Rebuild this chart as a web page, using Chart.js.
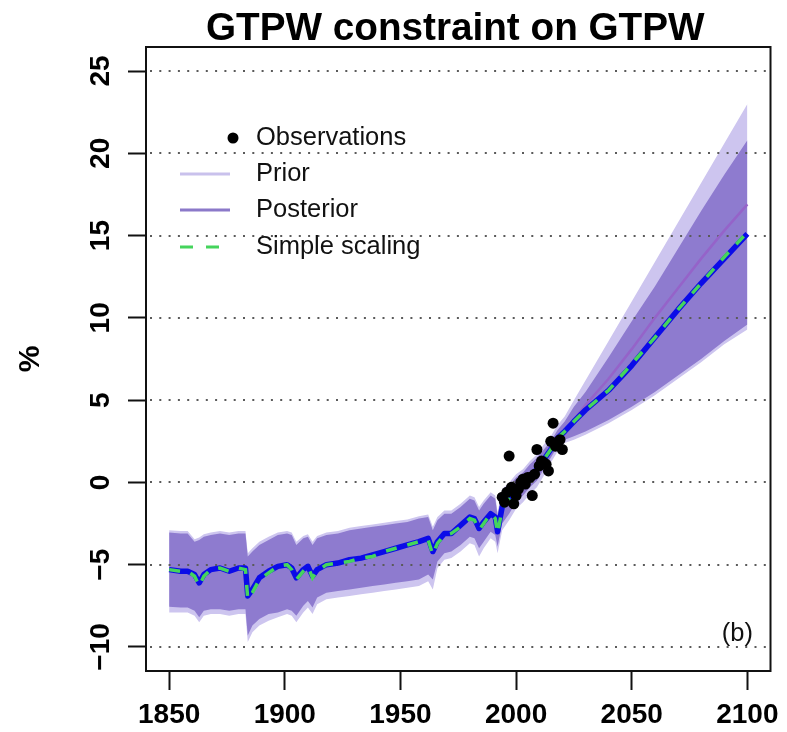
<!DOCTYPE html>
<html>
<head>
<meta charset="utf-8">
<title>GTPW constraint on GTPW</title>
<script src="https://cdn.jsdelivr.net/npm/chart.js@4.4.1/dist/chart.umd.min.js"></script>
<style>
  html, body { margin: 0; padding: 0; background: #ffffff; }
  #wrap { width: 787px; height: 732px; position: relative; }
</style>
</head>
<body>
<div id="wrap"><canvas id="chart" width="787" height="732"></canvas></div>
<script>
// Global-mean precipitation change (%), 1850-2100
const years = [1850, 1855, 1858, 1861, 1863, 1865, 1868, 1872, 1876, 1880,
  1883, 1884, 1886, 1889, 1893, 1897, 1901, 1903, 1905, 1908,
  1910, 1912, 1914, 1918, 1923, 1928, 1933, 1938, 1943, 1948,
  1953, 1958, 1962, 1964, 1966, 1969, 1972, 1976, 1980, 1982,
  1984, 1986, 1989, 1991, 1992, 1994, 1997, 2000, 2003, 2006,
  2009, 2012, 2015, 2018, 2021, 2025, 2030, 2040, 2050, 2060,
  2070, 2080, 2090, 2100];

const posteriorMedian = [-5.3, -5.4, -5.4, -5.6, -6.1, -5.6, -5.3, -5.2, -5.4, -5.2,
  -5.2, -6.9, -6.5, -5.8, -5.4, -5.1, -5.0, -5.2, -5.8, -5.3,
  -5.1, -5.7, -5.3, -5.0, -4.9, -4.7, -4.6, -4.4, -4.2, -4.0,
  -3.8, -3.6, -3.4, -4.2, -3.6, -3.1, -3.1, -2.6, -2.1, -2.2,
  -2.8, -2.4, -1.9, -2.1, -3.0, -1.5, -1.0, -0.4, -0.1, 0.4,
  0.8, 1.4, 2.0, 2.7, 3.1, 3.7, 4.4, 5.6, 7.1, 8.8,
  10.5, 12.1, 13.6, 15.1];

const simpleScaling = [-5.3, -5.4, -5.4, -5.7, -6.3, -5.7, -5.3, -5.2, -5.4, -5.2,
  -5.3, -7.1, -6.7, -5.9, -5.5, -5.1, -5.0, -5.3, -5.9, -5.4,
  -5.1, -5.8, -5.4, -5.0, -4.9, -4.8, -4.6, -4.5, -4.2, -4.0,
  -3.8, -3.6, -3.5, -4.4, -3.7, -3.2, -3.1, -2.7, -2.2, -2.3,
  -2.9, -2.5, -1.9, -2.2, -3.1, -1.6, -1.0, -0.5, -0.1, 0.4,
  0.8, 1.4, 2.0, 2.7, 3.1, 3.7, 4.4, 5.6, 7.2, 8.8,
  10.5, 12.1, 13.7, 15.2];

const posteriorLower = [-7.55, -7.6, -7.6, -7.8, -8.2, -7.8, -7.7, -7.7, -7.8, -7.7,
  -7.7, -9.3, -8.7, -8.3, -8.0, -7.9, -7.7, -7.8, -8.1, -7.5,
  -7.2, -7.6, -7.0, -6.7, -6.6, -6.5, -6.4, -6.3, -6.2, -6.1,
  -6.0, -5.9, -5.6, -5.9, -4.8, -4.3, -4.2, -3.8, -3.3, -3.4,
  -4.0, -3.6, -3.0, -3.2, -3.9, -2.5, -1.9, -1.2, -0.8, -0.3,
  0.1, 0.8, 1.5, 2.2, 2.6, 2.8, 3.1, 3.8, 4.6, 5.5,
  6.5, 7.5, 8.6, 9.6];

const posteriorUpper = [-3.05, -3.1, -3.1, -3.6, -3.5, -3.3, -3.2, -3.1, -3.2, -3.1,
  -3.1, -4.5, -4.2, -3.8, -3.5, -3.2, -3.1, -3.2, -3.8, -3.4,
  -3.3, -3.8, -3.4, -3.2, -3.1, -2.9, -2.8, -2.7, -2.6, -2.5,
  -2.4, -2.2, -2.1, -2.9, -2.3, -1.9, -1.9, -1.5, -1.0, -1.1,
  -1.7, -1.3, -0.8, -1.0, -2.0, -0.6, -0.2, 0.3, 0.6, 1.1,
  1.5, 2.0, 2.5, 3.2, 3.7, 4.6, 5.5, 7.6, 9.8, 11.9,
  14.2, 16.5, 18.7, 20.8];

const priorLower = [-7.9, -7.9, -7.9, -8.1, -8.5, -8.1, -8.0, -8.0, -8.1, -8.0,
  -8.0, -9.7, -9.1, -8.7, -8.4, -8.2, -8.0, -8.1, -8.5, -7.9,
  -7.6, -8.0, -7.4, -7.1, -7.0, -6.9, -6.8, -6.7, -6.6, -6.5,
  -6.4, -6.3, -6.0, -6.5, -5.2, -4.7, -4.6, -4.2, -3.7, -3.8,
  -4.5, -4.0, -3.4, -3.6, -4.3, -2.9, -2.3, -1.6, -1.2, -0.7,
  -0.3, 0.4, 1.2, 1.9, 2.4, 2.6, 2.9, 3.6, 4.4, 5.3,
  6.3, 7.3, 8.4, 9.3];

const priorUpper = [-2.9, -2.95, -2.95, -3.45, -3.35, -3.15, -3.05, -2.95, -3.05, -2.95,
  -2.95, -4.3, -4.0, -3.6, -3.3, -3.05, -2.95, -3.05, -3.6, -3.25,
  -3.15, -3.6, -3.25, -3.05, -2.95, -2.75, -2.65, -2.55, -2.45, -2.35,
  -2.25, -2.05, -1.95, -2.7, -2.1, -1.7, -1.7, -1.3, -0.8, -0.9,
  -1.5, -1.1, -0.6, -0.8, -1.8, -0.4, 0.0, 0.5, 0.8, 1.3,
  1.7, 2.3, 2.8, 3.5, 4.0, 5.0, 6.2, 8.6, 11.0, 13.4,
  15.8, 18.2, 20.6, 23.0];

// Prior median, shown for the projection period
const priorMedianYears = [2015, 2018, 2021, 2025, 2030, 2040, 2050, 2060, 2070, 2080, 2090, 2100];
const priorMedian = [2.0, 2.7, 3.1, 3.8, 4.7, 6.3, 8.1, 10.0, 11.8, 13.6, 15.3, 16.9];

const obsYears = [1994, 1995, 1996, 1997, 1998, 1999, 2000, 2001, 2002, 2003,
  2004, 2005, 2006, 2007, 2008, 2009, 2010, 2011, 2012, 2013,
  2014, 2015, 2016, 2017, 2018, 2019, 2020];
const obsValues = [-0.9, -1.2, -0.6, 1.6, -0.3, -1.3, -0.8, -0.4, 0.0, 0.2,
  -0.1, 0.3, 0.3, -0.8, 0.5, 2.0, 1.0, 1.3, 1.2, 1.1,
  0.7, 2.5, 3.6, 2.2, 2.4, 2.6, 2.0];

const xTickValues = [1850, 1900, 1950, 2000, 2050, 2100];
const xTickLabels = ['1850', '1900', '1950', '2000', '2050', '2100'];
const yTickValues = [-10, -5, 0, 5, 10, 15, 20, 25];
const yTickLabels = ['\u221210', '\u22125', '0', '5', '10', '15', '20', '25'];

const titleText = 'GTPW constraint on GTPW';
const yAxisTitle = '%';
const panelLabel = '(b)';
const legendLabels = ['Observations', 'Prior', 'Posterior', 'Simple scaling'];

const FONT = "'Liberation Sans', Arial, Helvetica, sans-serif";
const C_PRIOR_FILL = '#cdc5ef';
const C_POST_FILL = '#8e7bcf';
const C_PRIOR_LINE = '#c9c1ec';
const C_POST_LINE = '#8b79c9';
const C_PRIOR_MED = '#9563c9';
const C_BLUE = '#0b0be8';
const C_GREEN = '#45d45c';

const pts = (xs, ys) => xs.map((x, i) => ({ x: x, y: ys[i] }));

const bandEdge = {
  type: 'line', pointRadius: 0, tension: 0, borderWidth: 0,
  borderColor: 'rgba(0,0,0,0)'
};

const decor = {
  id: 'decor',
  afterDatasetDraw(chart, args) {
    // dotted reference lines sit above the uncertainty bands, below the curves
    if (args.index !== 3) return;
    const { ctx, chartArea: a, scales: { y } } = chart;
    ctx.save();
    ctx.setLineDash([2, 7.3]);
    ctx.lineWidth = 2;
    ctx.strokeStyle = '#5a5a5a';
    yTickValues.forEach(v => {
      const py = Math.round(y.getPixelForValue(v));
      ctx.beginPath();
      ctx.moveTo(a.left + 4, py);
      ctx.lineTo(a.right - 2, py);
      ctx.stroke();
    });
    ctx.restore();
  },
  afterDraw(chart) {
    const { ctx, chartArea: a } = chart;
    ctx.save();
    // plot frame
    ctx.lineWidth = 2;
    ctx.strokeStyle = '#111';
    ctx.strokeRect(a.left, a.top, a.right - a.left, a.bottom - a.top);

    // title
    ctx.fillStyle = '#000';
    ctx.font = 'bold 38.7px ' + FONT;
    ctx.textAlign = 'center';
    ctx.textBaseline = 'alphabetic';
    ctx.fillText(titleText, (a.left + a.right) / 2 - 3, 40);

    // legend
    ctx.font = '25.5px ' + FONT;
    ctx.textAlign = 'left';
    ctx.textBaseline = 'middle';
    const tx = 256, rows = [138, 174, 210, 247], lx0 = 180, lx1 = 230;
    ctx.fillStyle = '#000';
    ctx.beginPath();
    ctx.arc(233, rows[0], 5.5, 0, Math.PI * 2);
    ctx.fill();
    ctx.lineWidth = 3;
    ctx.strokeStyle = C_PRIOR_LINE;
    ctx.beginPath(); ctx.moveTo(lx0, rows[1]); ctx.lineTo(lx1, rows[1]); ctx.stroke();
    ctx.strokeStyle = C_POST_LINE;
    ctx.beginPath(); ctx.moveTo(lx0, rows[2]); ctx.lineTo(lx1, rows[2]); ctx.stroke();
    ctx.strokeStyle = C_GREEN;
    ctx.setLineDash([13, 13]);
    ctx.beginPath(); ctx.moveTo(lx0, rows[3]); ctx.lineTo(lx1, rows[3]); ctx.stroke();
    ctx.setLineDash([]);
    ctx.fillStyle = '#111';
    legendLabels.forEach((t, i) => ctx.fillText(t, tx, rows[i]));

    // panel label
    ctx.font = '25.5px ' + FONT;
    ctx.textAlign = 'right';
    ctx.textBaseline = 'alphabetic';
    ctx.fillText(panelLabel, 753, 641);
    ctx.restore();
  }
};

new Chart(document.getElementById('chart'), {
  type: 'line',
  data: {
    datasets: [
      Object.assign({}, bandEdge, { label: 'Prior lower', data: pts(years, priorLower), fill: false, order: 7 }),
      Object.assign({}, bandEdge, { label: 'Prior upper', data: pts(years, priorUpper), fill: 0, backgroundColor: C_PRIOR_FILL, order: 6 }),
      Object.assign({}, bandEdge, { label: 'Posterior lower', data: pts(years, posteriorLower), fill: false, order: 5 }),
      Object.assign({}, bandEdge, { label: 'Posterior upper', data: pts(years, posteriorUpper), fill: 2, backgroundColor: C_POST_FILL, order: 4 }),
      { type: 'line', label: 'Prior median', data: pts(priorMedianYears, priorMedian), borderColor: C_PRIOR_MED, borderWidth: 2.5, pointRadius: 0, tension: 0, fill: false, order: 3 },
      { type: 'line', label: 'Posterior median', data: pts(years, posteriorMedian), borderColor: C_BLUE, borderWidth: 5.5, pointRadius: 0, tension: 0, fill: false, order: 2, borderJoinStyle: 'round' },
      { type: 'line', label: 'Simple scaling', data: pts(years, simpleScaling), borderColor: C_GREEN, borderWidth: 3.5, borderDash: [11, 11], pointRadius: 0, tension: 0, fill: false, order: 1 },
      { type: 'line', label: 'Observations', data: pts(obsYears, obsValues), showLine: false, pointRadius: 5.5, pointBackgroundColor: '#000', pointBorderColor: '#000', pointBorderWidth: 0, order: 0 }
    ]
  },
  options: {
    responsive: false,
    animation: false,
    devicePixelRatio: 1,
    layout: { padding: { top: 47, right: 13, left: 0, bottom: 0 } },
    plugins: {
      legend: { display: false },
      title: { display: false },
      tooltip: { enabled: false }
    },
    scales: {
      x: {
        type: 'linear',
        min: 1840,
        max: 2110,
        afterBuildTicks: s => { s.ticks = xTickValues.map(v => ({ value: v })); },
        afterFit: s => { s.height = 61; },
        border: { display: false },
        grid: { drawOnChartArea: false, drawTicks: true, tickLength: 19, tickWidth: 2, tickColor: '#111', color: '#111' },
        ticks: {
          autoSkip: false, minRotation: 0, maxRotation: 0, padding: 8, color: '#000',
          font: { family: FONT, size: 28, weight: 'bold' },
          callback: v => xTickLabels[xTickValues.indexOf(v)]
        }
      },
      y: {
        type: 'linear',
        min: -11.46,
        max: 26.46,
        afterBuildTicks: s => { s.ticks = yTickValues.map(v => ({ value: v })); },
        afterFit: s => { s.width = 146; },
        border: { display: false },
        grid: { drawOnChartArea: false, drawTicks: true, tickLength: 18, tickWidth: 2, tickColor: '#111', color: '#111' },
        ticks: {
          autoSkip: false, minRotation: 90, maxRotation: 90, crossAlign: 'center', padding: 3, color: '#000',
          font: { family: FONT, size: 28, weight: 'bold' },
          callback: v => yTickLabels[yTickValues.indexOf(v)]
        },
        title: {
          display: true, text: yAxisTitle, color: '#000',
          font: { family: FONT, size: 30, weight: 'bold' },
          padding: { top: 13, bottom: 0 }
        }
      }
    }
  },
  plugins: [decor]
});
</script>
</body>
</html>
